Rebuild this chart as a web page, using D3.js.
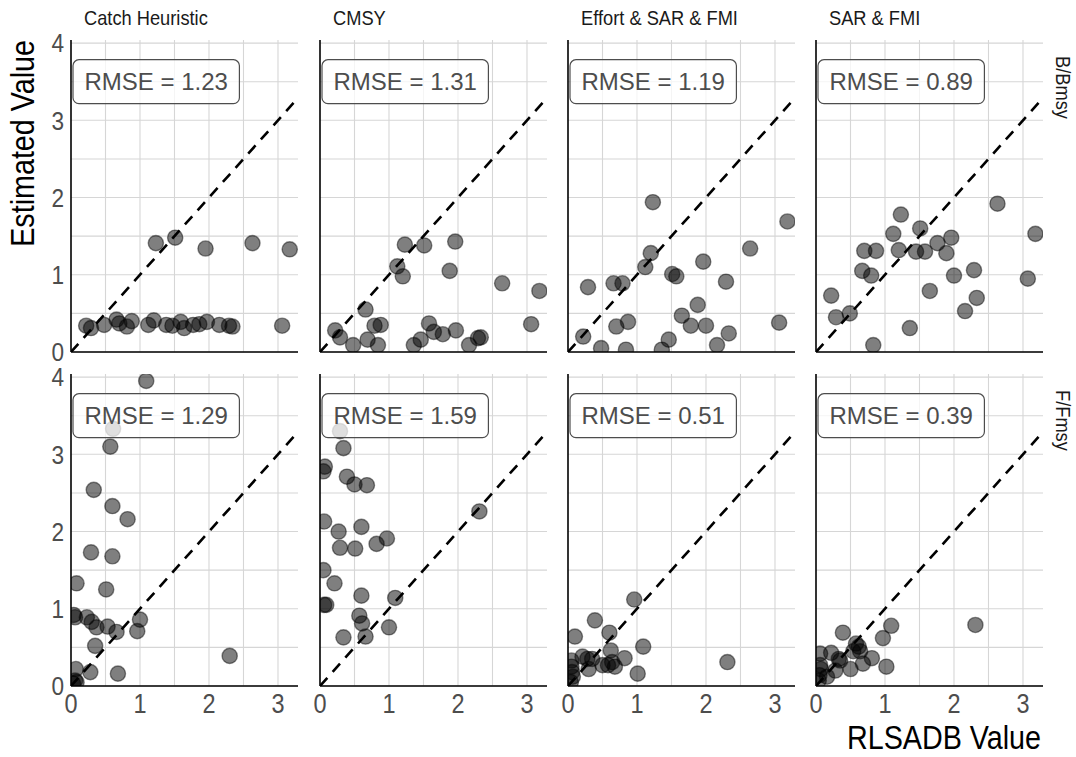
<!DOCTYPE html>
<html><head><meta charset="utf-8">
<script src="https://cdn.jsdelivr.net/npm/d3@7"></script>
<style>
body{margin:0;background:#fff;}
svg{display:block;}
text{font-family:"Liberation Sans",Arial,sans-serif;}
</style></head>
<body>
<svg id="chart" width="1076" height="757"></svg>
<script>
// ---------- data ----------
const methods = ["Catch Heuristic", "CMSY", "Effort & SAR & FMI", "SAR & FMI"];
const metrics = ["B/Bmsy", "F/Fmsy"];
const rmseB = [1.23, 1.31, 1.19, 0.89];
const rmseF = [1.29, 1.59, 0.51, 0.39];
const xTicks = [0, 1, 2, 3];
const yTicks = [0, 1, 2, 3, 4];

const catchB = [[1.23,1.41],[1.51,1.48],[1.95,1.34],[2.63,1.41],[3.17,1.33],[3.06,0.34],
  [0.22,0.34],[0.29,0.31],[0.48,0.35],[0.66,0.42],[0.70,0.37],[0.81,0.33],[0.88,0.40],
  [1.12,0.35],[1.20,0.41],[1.38,0.35],[1.47,0.34],[1.59,0.39],[1.64,0.31],[1.77,0.35],
  [1.86,0.36],[1.97,0.39],[2.15,0.35],[2.29,0.34],[2.34,0.33]];
const cmsyB = [[1.23,1.39],[1.51,1.38],[1.96,1.43],[1.12,1.11],[1.20,0.98],[1.88,1.05],
  [2.64,0.89],[3.18,0.79],[3.06,0.36],[0.22,0.28],[0.29,0.19],[0.48,0.09],[0.66,0.55],
  [0.69,0.16],[0.79,0.34],[0.88,0.35],[0.84,0.09],[1.36,0.09],[1.46,0.16],[1.58,0.37],
  [1.65,0.26],[1.78,0.23],[1.97,0.28],[2.16,0.09],[2.29,0.18],[2.33,0.19]];
const effortB = [[1.23,1.94],[3.18,1.69],[2.64,1.34],[1.20,1.28],[1.12,1.10],[1.96,1.17],
  [1.51,1.01],[1.57,0.98],[2.29,0.91],[0.29,0.84],[0.66,0.89],[0.79,0.89],[1.88,0.61],
  [1.65,0.47],[1.78,0.34],[2.00,0.34],[0.70,0.33],[0.87,0.39],[0.22,0.20],[0.48,0.05],
  [0.84,0.03],[1.36,0.03],[1.46,0.16],[2.16,0.09],[2.33,0.24],[3.06,0.38]];
const sarB = [[2.63,1.92],[3.18,1.53],[1.23,1.78],[1.12,1.53],[1.51,1.60],[1.96,1.48],
  [1.76,1.41],[0.70,1.31],[0.87,1.31],[1.20,1.32],[1.45,1.30],[1.58,1.30],[1.89,1.28],
  [0.67,1.05],[0.80,0.99],[2.00,0.99],[2.29,1.06],[3.07,0.95],[1.65,0.79],[2.33,0.70],
  [2.16,0.53],[0.22,0.73],[0.29,0.45],[0.49,0.50],[1.36,0.31],[0.83,0.09]];

const catchF = [[1.09,3.95],[0.61,3.33],[0.57,3.10],[0.33,2.54],[0.60,2.33],[0.82,2.16],
  [0.29,1.73],[0.60,1.68],[0.08,1.33],[0.51,1.25],[0.04,0.92],[0.06,0.89],[0.23,0.89],
  [0.30,0.83],[0.37,0.76],[0.53,0.77],[0.66,0.70],[1.00,0.86],[0.96,0.71],[0.35,0.52],
  [2.30,0.39],[0.07,0.22],[0.28,0.18],[0.68,0.16],[0.06,0.07],[0.08,0.05],[0.03,0.03]];
const cmsyF = [[0.29,3.30],[0.34,3.08],[0.07,2.84],[0.05,2.78],[0.39,2.71],[0.50,2.61],
  [0.68,2.60],[2.31,2.26],[0.06,2.13],[0.27,2.00],[0.60,2.06],[0.29,1.79],[0.51,1.78],
  [0.82,1.84],[0.97,1.91],[0.05,1.50],[0.21,1.33],[0.60,1.17],[1.09,1.14],[0.06,1.05],
  [0.09,1.05],[0.57,0.91],[0.61,0.81],[1.00,0.76],[0.34,0.63],[0.66,0.64]];
const effortF = [[0.96,1.12],[0.39,0.85],[0.60,0.69],[0.10,0.64],[1.09,0.51],[0.62,0.46],
  [2.31,0.31],[0.82,0.36],[0.21,0.38],[0.28,0.35],[0.35,0.35],[0.30,0.22],[0.50,0.27],
  [0.58,0.27],[0.64,0.31],[0.68,0.25],[1.01,0.16],[0.05,0.33],[0.05,0.25],[0.06,0.18],
  [0.07,0.12],[0.04,0.05]];
const sarF = [[2.31,0.79],[1.09,0.78],[0.97,0.62],[0.39,0.69],[0.58,0.55],[0.62,0.51],
  [0.54,0.45],[0.64,0.45],[0.81,0.36],[0.22,0.43],[0.33,0.35],[0.35,0.33],[0.06,0.42],
  [0.50,0.22],[0.68,0.29],[1.02,0.25],[0.28,0.20],[0.06,0.27],[0.07,0.22],[0.05,0.14],
  [0.04,0.07],[0.16,0.12]];

const panelData = [[catchB, cmsyB, effortB, sarB], [catchF, cmsyF, effortF, sarF]];
const rmseRows = [rmseB, rmseF];

// ---------- layout ----------
const svg = d3.select("#chart");
const pw = 227, ph = 312;
const lefts = [71, 320, 568, 816];
const tops = [40, 374];
const squeeze = 0.87;
const x = d3.scaleLinear().domain([0, 3.29]).range([0, pw]);
const y = d3.scaleLinear().domain([0, 4.04]).range([ph, 0]);
const gridVals = d3.range(0, 4.01, 0.5);
const gridX = d3.range(0.5, 3.01, 0.5);

// condensed text helper (horizontal squeeze)
function ctext(parent, tx, ty, rot, str, size, fill, anchor, dy) {
  return parent.append("text")
    .attr("transform", `translate(${tx},${ty}) rotate(${rot}) scale(${squeeze},1)`)
    .attr("font-size", size).attr("fill", fill)
    .attr("text-anchor", anchor || "start").attr("dy", dy || 0)
    .text(str);
}

const defs = svg.append("defs");
defs.append("clipPath").attr("id", "pclip").append("rect")
  .attr("x", 0).attr("y", 0).attr("width", pw).attr("height", ph);

metrics.forEach((m, r) => {
  methods.forEach((meth, c) => {
    const g = svg.append("g").attr("transform", `translate(${lefts[c]},${tops[r]})`);
    // grid
    g.append("g").selectAll("line.h").data(gridVals).join("line")
      .attr("x1", 0).attr("x2", pw).attr("y1", d => y(d)).attr("y2", d => y(d))
      .attr("stroke", "#d6d6d6").attr("stroke-width", 1.1);
    g.append("g").selectAll("line.v").data(gridX).join("line")
      .attr("y1", 0).attr("y2", ph).attr("x1", d => x(d)).attr("x2", d => x(d))
      .attr("stroke", "#d6d6d6").attr("stroke-width", 1.1);

    const inner = g.append("g").attr("clip-path", "url(#pclip)");
    inner.selectAll("circle").data(panelData[r][c]).join("circle")
      .attr("cx", d => x(d[0])).attr("cy", d => y(d[1])).attr("r", 7.6)
      .attr("fill", "#000").attr("fill-opacity", 0.5)
      .attr("stroke", "#000").attr("stroke-opacity", 0.45).attr("stroke-width", 1.4);
    inner.append("line")
      .attr("x1", x(0)).attr("y1", y(0)).attr("x2", x(3.29)).attr("y2", y(3.29))
      .attr("stroke", "#000").attr("stroke-width", 2.6).attr("stroke-dasharray", "11,8");

    // RMSE label
    const lg = g.append("g");
    const rect = lg.append("rect");
    const t = lg.append("text").text(`RMSE = ${rmseRows[r][c].toFixed(2)}`)
      .attr("font-size", 24).attr("fill", "#4d4d4d")
      .attr("x", x(0) + 2 + 11.5).attr("y", y(3.5)).attr("dy", "0.36em");
    const tw = t.node().getComputedTextLength();
    rect.attr("x", x(0) + 2).attr("y", y(3.5) - 22).attr("width", tw + 23).attr("height", 44)
      .attr("rx", 6).attr("fill", "#fff").attr("fill-opacity", 0.75)
      .attr("stroke", "#4d4d4d").attr("stroke-width", 1.2);

    // axis lines
    g.append("line").attr("x1", 0).attr("x2", 0).attr("y1", 0).attr("y2", ph)
      .attr("stroke", "#000").attr("stroke-width", 1.6);
    g.append("line").attr("x1", 0).attr("x2", pw).attr("y1", ph).attr("y2", ph)
      .attr("stroke", "#000").attr("stroke-width", 1.6);

    // tick labels
    if (c === 0) {
      yTicks.forEach(d => ctext(g, -7, y(d), 0, d, 26, "#4d4d4d", "end", "0.36em"));
    }
    if (r === 1) {
      xTicks.forEach(d => ctext(g, x(d), ph + 8, 0, d, 27, "#4d4d4d", "middle", "0.72em"));
    }
    // strips
    if (r === 0) {
      ctext(svg, lefts[c] + 13, 25, 0, meth, 21, "#1a1a1a", "start");
    }
    if (c === 3) {
      ctext(svg, 1056, tops[r] + 16, 90, m, 21, "#1a1a1a", "start");
    }
  });
});

// axis titles
ctext(svg, 34, 40, -90, "Estimated Value", 33, "#000", "end");
ctext(svg, lefts[3] + pw - 2, 749, 0, "RLSADB Value", 33, "#000", "end");
</script>
</body></html>
